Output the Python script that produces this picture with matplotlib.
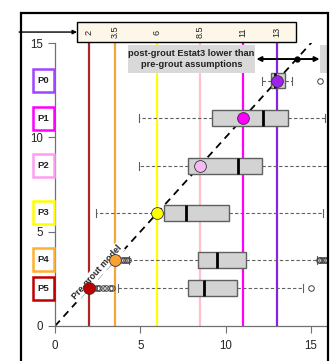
import matplotlib
matplotlib.use("Agg")
import matplotlib.pyplot as plt
from matplotlib.patches import Rectangle

plt.rcParams['font.family'] = ['Liberation Sans', 'DejaVu Sans']

# Piezometer rows and their pre-grout model values
rows = ["P0", "P1", "P2", "P3", "P4", "P5"]
pregrout = [13, 11, 8.5, 6, 3.5, 2]
line_colors = ["#8422e6", "#ff00ff", "#ffc0cb", "#ffff00", "#f7a535", "#a8282a"]
point_colors = ["#a020f0", "#ff00ff", "#f8b8f4", "#ffff00", "#f7a035", "#c00000"]
label_colors = ["#a045ff", "#ff00ff", "#ff9cf4", "#ffff00", "#ffb030", "#c00000"]

# Post-grout Estat3 distributions (box statistics)
whislo = [12.1, 4.9, 4.9, 2.4, 4.35, 3.7]
q1 = [12.65, 9.2, 7.8, 6.4, 8.4, 7.8]
med = [12.9, 12.2, 10.7, 7.7, 9.5, 8.75]
q3 = [13.5, 13.65, 12.1, 10.2, 11.2, 10.65]
whishi = [13.9, 15.8, 16.3, 15.7, 15.35, 14.5]
fliers = [
    [15.5],
    [],
    [],
    [],
    [3.95, 4.05, 4.15, 4.25, 15.45, 15.55, 15.65, 15.75, 15.85],
    [2.3, 2.45, 2.6, 2.8, 3.0, 3.2, 3.35, 15.0],
]
box_heights = [0.8, 0.85, 0.85, 0.85, 0.85, 0.85]

header_ticks = [2, 3.5, 6, 8.5, 11, 13]
header_labels = ["2", "3.5", "6", "8.5", "11", "13"]

fig = plt.figure(figsize=(3.34, 3.61), dpi=100)
W, H = 334, 361
ax = fig.add_axes([55 / W, 35 / H, 272 / W, 283 / H])
xmax = 272 / 17.07
ax.set_xlim(0, xmax)
ax.set_ylim(0, 15)

# vertical reference lines at each pre-grout value
for v, c in zip(pregrout, line_colors):
    ax.plot([v, v], [0, 15], color=c, lw=1.6, zorder=1, solid_capstyle='butt')

# 1:1 pre-grout model line
ax.plot([0, xmax], [0, xmax], color="black", lw=1.3, ls=(0, (4, 3)), zorder=2)

stats = []
for i in range(len(rows)):
    stats.append(dict(whislo=whislo[i], q1=q1[i], med=med[i], q3=q3[i],
                      whishi=whishi[i], fliers=fliers[i]))
ax.bxp(stats, positions=pregrout, widths=box_heights, orientation='horizontal',
       patch_artist=True, manage_ticks=False, zorder=3,
       boxprops=dict(facecolor="#d3d3d3", edgecolor="#606060", lw=1.0),
       medianprops=dict(color="black", lw=2.0),
       whiskerprops=dict(color="#606060", lw=0.8, ls=(0, (3, 2))),
       capprops=dict(color="#606060", lw=0.8),
       flierprops=dict(marker='o', markersize=4.0, markerfacecolor='none',
                       markeredgecolor='#404040', markeredgewidth=0.7))

# pre-grout model points on the 1:1 line
for v, c in zip(pregrout, point_colors):
    ax.plot([v], [v], 'o', color=c, markersize=8.5, markeredgecolor='#333333',
            markeredgewidth=0.6, zorder=6)

ax.text(2.45, 2.85, "Pre-grout model", rotation=47.9, ha='center', va='center',
        fontsize=6.4, fontweight='bold', color='#222222', zorder=4,
        rotation_mode='anchor',
        bbox=dict(boxstyle='square,pad=0.15', facecolor='white', edgecolor='none'))

# annotation boxes
ax.add_patch(Rectangle((4.28, 13.41), 7.44, 1.48, facecolor="#d9d9d9",
                       edgecolor='none', zorder=2.5))
ax.text(8.0, 14.15, "post-grout Estat3 lower than\npre-grout assumptions",
        ha='center', va='center', fontsize=6.7, fontweight='bold',
        family=['Liberation Sans Narrow', 'Liberation Sans'], color='#222222',
        linespacing=1.4, zorder=4)
ax.add_patch(Rectangle((15.55, 13.41), 3.0, 1.48, facecolor="#d9d9d9",
                       edgecolor='none', zorder=2.5))
ax.annotate("", xy=(11.8, 14.15), xytext=(15.5, 14.15),
            arrowprops=dict(arrowstyle='<|-|>', color='black', lw=1.4,
                            mutation_scale=7, shrinkA=0, shrinkB=0), zorder=5)
ax.plot([14.15], [14.15], 'o', color='black', markersize=3.5, zorder=6)

# header strip with pre-grout values
ax.add_patch(Rectangle((1.29, 15.05), 12.83, 1.07, facecolor="#fdf7ea",
                       edgecolor='black', lw=1.0, clip_on=False, zorder=5))
for v, lab in zip(header_ticks, header_labels):
    ax.text(v, 15.58, lab, rotation=90, ha='center', va='center', fontsize=6.6,
            color='#222222', clip_on=False, zorder=6)
ax.annotate("", xy=(1.29, 15.58), xytext=(-2.1, 15.58),
            arrowprops=dict(arrowstyle='-|>', color='black', lw=1.0,
                            mutation_scale=6, shrinkA=0, shrinkB=0),
            annotation_clip=False, zorder=5)

# row labels in the left margin
for y, lab, c in zip(pregrout, rows, label_colors):
    ax.add_patch(Rectangle((-1.27, y - 0.61), 1.2, 1.22, facecolor='white',
                           edgecolor=c, lw=1.8, clip_on=False, zorder=5))
    ax.text(-0.67, y, lab, ha='center', va='center', fontsize=6.8,
            fontweight='bold', color='#222222', clip_on=False, zorder=6)

ax.set_xticks([0, 5, 10, 15])
ax.set_yticks([0, 5, 10, 15])
ax.tick_params(axis='both', length=5, width=0.8, color='#707070',
               labelsize=8.3, labelcolor='#222222')
ax.tick_params(axis='x', pad=5)
ax.tick_params(axis='y', pad=3.5)
for s in ['top', 'right']:
    ax.spines[s].set_visible(False)
for s in ['left', 'bottom']:
    ax.spines[s].set_color('#707070')
    ax.spines[s].set_linewidth(0.9)

# outer frame
fig.patches.append(Rectangle((20.5 / W, -0.1), 307.5 / W, 1.1 - 13 / H,
                             transform=fig.transFigure, facecolor='none',
                             edgecolor='black', lw=1.6, zorder=10))

fig.savefig("out.png", dpi=100)
